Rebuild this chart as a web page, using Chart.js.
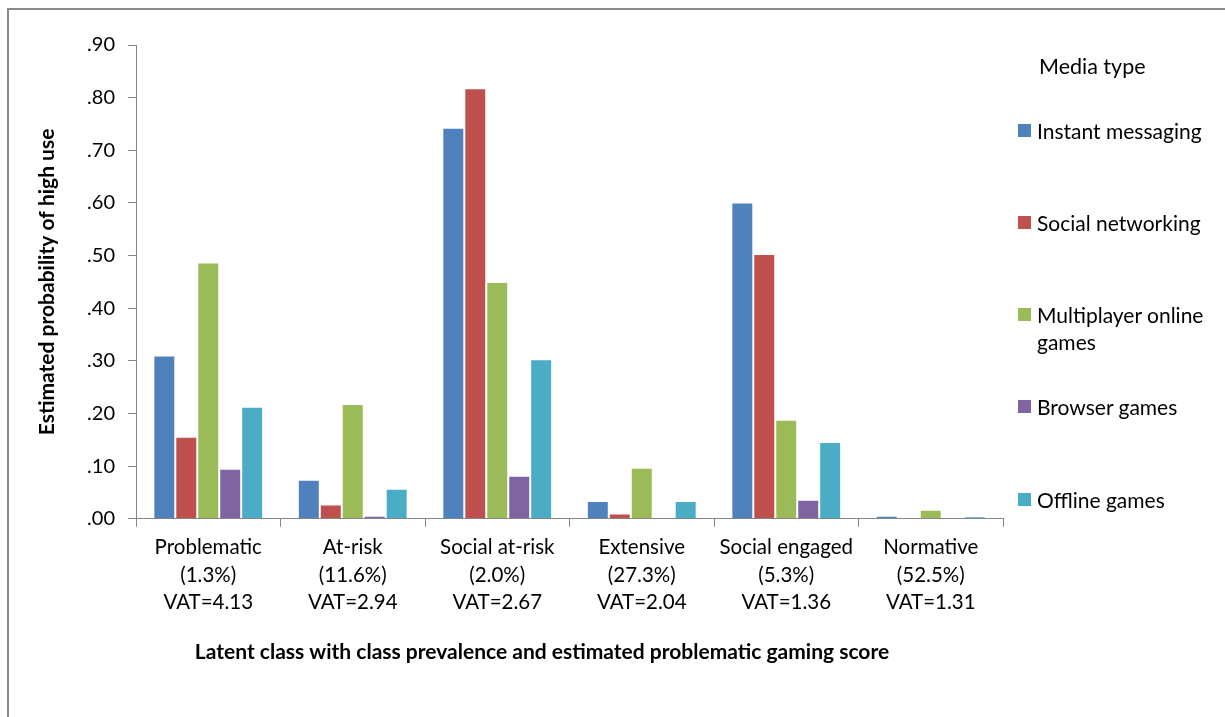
<!DOCTYPE html>
<html>
<head>
<meta charset="utf-8">
<script src="https://cdn.jsdelivr.net/npm/chart.js@4.4.1/dist/chart.umd.min.js"></script>
<style>
  html, body { margin: 0; padding: 0; background: #fff; }
  body { width: 1225px; height: 717px; position: relative; overflow: hidden; font-family: Lato, "Open Sans", sans-serif; }
  #frame { position: absolute; left: 7px; top: 8px; width: 1240px; height: 720px; border-top: 2px solid #8a8a8a; border-left: 2px solid #8a8a8a; }
  #wrap { position: absolute; left: 10px; top: 10px; width: 1064px; height: 680px; }
  #legend { position: absolute; left: 0; top: 0; }
  .lg-title { position: absolute; left: 1039px; top: 52px; font-size: 21.5px; line-height: 28px; color: #000; white-space: nowrap; }
  .lg-item { position: absolute; left: 1018px; width: 200px; font-size: 21px; line-height: 27px; color: #000; }
  .lg-box { position: absolute; left: 0; top: 7px; width: 13px; height: 13px; }
  .lg-text { margin-left: 19px; }
</style>
</head>
<body>
<div id="frame"></div>
<div id="wrap"><canvas id="chart"></canvas></div>
<div id="legend"></div>
<script>
// latent classes (label lines)
const categories = [
  ["Problematic", "(1.3%)", "VAT=4.13"],
  ["At-risk", "(11.6%)", "VAT=2.94"],
  ["Social at-risk", "(2.0%)", "VAT=2.67"],
  ["Extensive", "(27.3%)", "VAT=2.04"],
  ["Social engaged", "(5.3%)", "VAT=1.36"],
  ["Normative", "(52.5%)", "VAT=1.31"],
];

const seriesNames = [
  "Instant messaging",
  "Social networking",
  "Multiplayer online games",
  "Browser games",
  "Offline games",
];

// estimated probability of high use, per class
const instantMessaging = [0.310, 0.074, 0.743, 0.034, 0.601, 0.006];
const socialNetworking = [0.156, 0.027, 0.818, 0.010, 0.503, 0.002];
const multiplayerGames = [0.487, 0.218, 0.450, 0.097, 0.188, 0.017];
const browserGames = [0.095, 0.006, 0.082, 0.002, 0.036, 0.001];
const offlineGames = [0.213, 0.057, 0.303, 0.034, 0.146, 0.005];

const yTicks = [0, 0.1, 0.2, 0.3, 0.4, 0.5, 0.6, 0.7, 0.8, 0.9];

const colors = ["#4F81BD", "#C0504D", "#9BBB59", "#8064A2", "#4BACC6"];
const seriesValues = [instantMessaging, socialNetworking, multiplayerGames, browserGames, offlineGames];

const axisColor = "#868686";
const fontFamily = "Lato, 'Open Sans', sans-serif";

const datasets = seriesNames.map((name, i) => ({
  label: name,
  data: seriesValues[i],
  backgroundColor: colors[i],
  borderColor: "rgba(255,255,255,0.55)",
  borderWidth: 1,
  categoryPercentage: 0.76,
  barPercentage: 1.0,
}));

new Chart(document.getElementById("chart"), {
  type: "bar",
  data: { labels: categories, datasets },
  options: {
    responsive: true,
    maintainAspectRatio: false,
    animation: false,
    layout: { padding: { top: 35, right: 0, bottom: 25, left: 0 } },
    plugins: {
      legend: { display: false },
      tooltip: { enabled: false },
      title: {
        display: true,
        position: "bottom",
        text: "Latent class with class prevalence and estimated problematic gaming score",
        color: "#000",
        font: { family: fontFamily, size: 21, weight: "bold" },
        padding: { top: 25, bottom: 0 },
      },
    },
    scales: {
      x: {
        grid: { offset: true, drawOnChartArea: false, tickLength: 8, color: axisColor },
        border: { color: axisColor, width: 1 },
        ticks: {
          color: "#000",
          padding: 7,
          maxRotation: 0,
          autoSkip: false,
          font: { family: fontFamily, size: 20.5, lineHeight: 1.34 },
        },
        afterFit: (scale) => { scale.height = 96; },
      },
      y: {
        min: 0,
        max: 0.9,
        afterBuildTicks: (scale) => { scale.ticks = yTicks.map((v) => ({ value: v })); },
        grid: { drawOnChartArea: false, tickLength: 8, color: axisColor },
        border: { color: axisColor, width: 1 },
        ticks: {
          color: "#000",
          padding: 13,
          font: { family: fontFamily, size: 20 },
          callback: (v) => Number(v).toFixed(2).replace(/^0/, ""),
        },
        title: {
          display: true,
          text: "Estimated probability of high use",
          color: "#000",
          font: { family: fontFamily, size: 21, weight: "bold" },
          padding: { top: 25, bottom: 0 },
        },
        afterFit: (scale) => { scale.width = 126; },
      },
      // empty right-hand gutter so the bottom title centres like the original
      gutter: {
        type: "linear",
        position: "right",
        display: true,
        grid: { display: false },
        border: { display: false },
        ticks: { display: false },
        afterFit: (scale) => { scale.width = 71; },
      },
    },
  },
});

// legend drawn beside the plot
const legend = document.getElementById("legend");
const title = document.createElement("div");
title.className = "lg-title";
title.textContent = "Media type";
legend.appendChild(title);
seriesNames.forEach((name, i) => {
  const item = document.createElement("div");
  item.className = "lg-item";
  item.style.top = (130 + i * 92.3 - 13.5) + "px";
  const box = document.createElement("div");
  box.className = "lg-box";
  box.style.background = colors[i];
  const text = document.createElement("div");
  text.className = "lg-text";
  text.textContent = name;
  item.appendChild(box);
  item.appendChild(text);
  legend.appendChild(item);
});
</script>
</body>
</html>
